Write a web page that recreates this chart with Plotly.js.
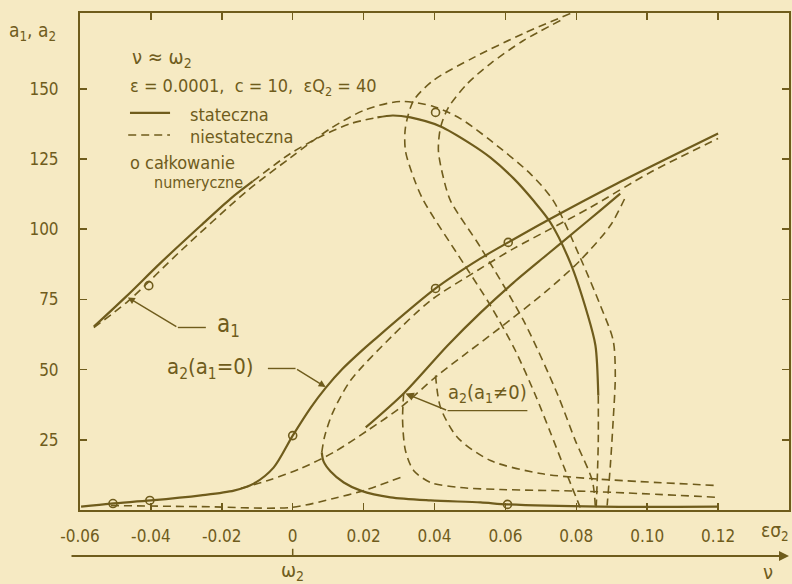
<!DOCTYPE html>
<html>
<head>
<meta charset="utf-8">
<script src="https://cdn.plot.ly/plotly-3.0.1.min.js"></script>
<style>
  html, body { margin: 0; padding: 0; background: #f6eac3; }
  #chart { width: 792px; height: 584px; }
</style>
</head>
<body>
<div id="chart"></div>
<script>
// Amplitude response near nu ~ omega_2 (detuning eps*sigma_2 on the x axis)

// a1 branch: stable part on the left, unstable middle, stable arc, unstable tail
const a1StableLeftX  = [-0.0561, -0.0470, -0.0372, -0.0259, -0.0175, -0.0113];
const a1StableLeftY  = [65.3, 76.0, 88.1, 101.3, 110.9, 117.0];
const a1UnstableMidX = [-0.0113, -0.0006, 0.0079, 0.0163, 0.0239];
const a1UnstableMidY = [117.0, 127.0, 133.0, 137.6, 139.8];
const a1StableArcX   = [0.0239, 0.0282, 0.0332, 0.0417, 0.0501, 0.0558, 0.0623, 0.0679, 0.0727, 0.0783, 0.0831, 0.0854, 0.0862];
const a1StableArcY   = [139.8, 140.5, 139.8, 136.6, 130.5, 125.5, 118.1, 110.2, 102.4, 88.1, 70.0, 58.6, 40.8];
const a1TailX        = [0.0862, 0.0862, 0.0859, 0.0856];
const a1TailY        = [40.8, 24.8, 10.5, 0.5];
// a1 outer unstable branch
const a1OuterX = [-0.0561, -0.0465, -0.0315, -0.0127, -0.0006, 0.0107, 0.0206, 0.0304, 0.0397, 0.0473, 0.0558, 0.0670, 0.0735, 0.0811, 0.0868, 0.0904, 0.0910, 0.0904, 0.0896, 0.0887];
const a1OuterY = [65.0, 74.3, 92.4, 113.8, 125.5, 135.9, 142.6, 145.5, 143.7, 139.4, 131.6, 119.8, 110.2, 89.9, 72.8, 60.4, 47.9, 31.9, 15.8, 1.6];
// two unstable loops coming down from the top edge
const loop1X = [0.0783, 0.0651, 0.0510, 0.0397, 0.0341, 0.0318, 0.0318, 0.0341, 0.0369, 0.0482, 0.0558, 0.0628, 0.0685, 0.0727, 0.0769, 0.0811];
const loop1Y = [176.8, 169.7, 161.1, 153.0, 145.8, 136.2, 128.0, 118.4, 110.2, 87.8, 72.8, 56.8, 40.8, 27.6, 14.1, 0.9];
const loop2X = [0.0755, 0.0651, 0.0558, 0.0493, 0.0439, 0.0417, 0.0411, 0.0425, 0.0445, 0.0530, 0.0651, 0.0746, 0.0797, 0.0845, 0.0854];
const loop2Y = [174.3, 167.2, 159.0, 151.9, 143.3, 136.2, 128.0, 118.4, 110.2, 93.5, 67.5, 41.5, 24.8, 10.5, 0.5];

// a2 with a1 = 0: upper stable, middle unstable, lower stable
const a2UpperX = [-0.0597, -0.0513, -0.0400, -0.0259, -0.0166, -0.0110, -0.0054, 0.0, 0.0051, 0.0093, 0.0140, 0.0185, 0.0228, 0.0403, 0.0530, 0.0608, 0.0718, 0.0915, 0.1200];
const a2UpperY = [1.2, 2.3, 3.4, 5.2, 6.9, 9.4, 15.1, 26.5, 36.5, 43.5, 50.2, 55.6, 60.4, 78.9, 89.6, 95.3, 103.1, 116.3, 134.1];
const a2MiddleX = [0.0082, 0.0090, 0.0113, 0.0163, 0.0276, 0.0389, 0.0521, 0.0623, 0.0718, 0.0839, 0.1008, 0.1200];
const a2MiddleY = [20.5, 26.2, 34.7, 46.1, 61.4, 74.6, 85.3, 93.1, 99.5, 107.7, 120.2, 132.3];
const a2LowerX = [0.0082, 0.0087, 0.0107, 0.0144, 0.0192, 0.0276, 0.0389, 0.0530, 0.0606, 0.0868, 0.1200];
const a2LowerY = [20.5, 17.3, 13.7, 9.8, 6.9, 4.5, 3.4, 2.7, 2.0, 1.2, 1.2];

// a2 with a1 != 0
const a2CoupledStableX = [0.0206, 0.0313, 0.0437, 0.0530, 0.0623, 0.0718, 0.0803, 0.0868, 0.0924];
const a2CoupledStableY = [29.4, 41.5, 58.6, 70.3, 81.0, 91.0, 99.9, 106.7, 112.7];
const a2CoupledUnstX = [-0.0146, -0.0070, 0.0023, 0.0115, 0.0211, 0.0304, 0.0408, 0.0493, 0.0586, 0.0718, 0.0811, 0.0896, 0.0938];
const a2CoupledUnstY = [7.7, 10.5, 14.8, 20.5, 28.3, 36.5, 47.9, 56.1, 65.0, 78.2, 88.9, 101.3, 111.3];
const lowBranchX = [-0.0513, -0.0259, -0.0006, 0.0115, 0.0200, 0.0304];
const lowBranchY = [1.6, 1.2, 0.9, 4.1, 6.9, 11.6];
const tailAX = [0.0313, 0.0310, 0.0318, 0.0341, 0.0389, 0.0473, 0.0586, 0.0839, 0.1200];
const tailAY = [41.5, 31.9, 21.2, 14.1, 9.8, 8.0, 7.3, 6.6, 4.5];
const tailBX = [0.0403, 0.0417, 0.0465, 0.0558, 0.0699, 0.0839, 0.1200];
const tailBY = [47.9, 36.5, 25.8, 17.6, 13.0, 11.2, 8.7];

// numerical integration points
const numX = [-0.0507, -0.0403, 0.0, 0.0403, 0.0608, 0.0606, -0.0406, 0.0403];
const numY = [2.3, 3.4, 26.5, 78.9, 95.3, 2.0, 79.9, 141.6];

const xTickVals = [-0.06, -0.04, -0.02, 0, 0.02, 0.04, 0.06, 0.08, 0.10, 0.12];
const xTickText = ['-0.06', '-0.04', '-0.02', '0', '0.02', '0.04', '0.06', '0.08', '0.10', '0.12'];
const yTickVals = [25, 50, 75, 100, 125, 150];

const ink = '#6f5c1c';
const paper = '#f6eac3';
const font = 'DejaVu Sans Condensed, Liberation Sans Narrow, DejaVu Sans, sans-serif';

function solid(x, y) {
  return { x, y, type: 'scatter', mode: 'lines', hoverinfo: 'skip',
           line: { color: ink, width: 2.2, shape: 'spline', smoothing: 0.8 } };
}
function dashed(x, y) {
  return { x, y, type: 'scatter', mode: 'lines', hoverinfo: 'skip',
           line: { color: ink, width: 1.6, dash: '8px,5px', shape: 'spline', smoothing: 0.8 } };
}

const traces = [
  solid(a1StableLeftX, a1StableLeftY),
  dashed(a1UnstableMidX, a1UnstableMidY),
  solid(a1StableArcX, a1StableArcY),
  dashed(a1TailX, a1TailY),
  dashed(a1OuterX, a1OuterY),
  dashed(loop1X, loop1Y),
  dashed(loop2X, loop2Y),
  solid(a2UpperX, a2UpperY),
  dashed(a2MiddleX, a2MiddleY),
  solid(a2LowerX, a2LowerY),
  solid(a2CoupledStableX, a2CoupledStableY),
  dashed(a2CoupledUnstX, a2CoupledUnstY),
  dashed(lowBranchX, lowBranchY),
  dashed(tailAX, tailAY),
  dashed(tailBX, tailBY),
  { x: numX, y: numY, type: 'scatter', mode: 'markers', hoverinfo: 'skip',
    marker: { symbol: 'circle-open', size: 8, color: ink, line: { color: ink, width: 1.6 } } }
];

const axisFont = { family: font, size: 17, color: ink };

const layout = {
  width: 792, height: 584,
  margin: { l: 80, r: 3, t: 13, b: 74 },
  paper_bgcolor: paper, plot_bgcolor: paper,
  showlegend: false,
  xaxis: {
    range: [-0.06, 0.14], tickvals: xTickVals, ticktext: xTickText,
    showgrid: false, zeroline: false, showline: true, linecolor: ink, linewidth: 2,
    mirror: 'allticks', ticks: 'inside', ticklen: 7, tickwidth: 1.5, tickcolor: ink,
    tickfont: axisFont, ticklabelstandoff: 10
  },
  yaxis: {
    range: [0, 177], tickvals: yTickVals,
    showgrid: false, zeroline: false, showline: true, linecolor: ink, linewidth: 2,
    mirror: 'allticks', ticks: 'inside', ticklen: 7, tickwidth: 1.5, tickcolor: ink,
    tickfont: axisFont, ticklabelstandoff: 16
  },
  shapes: [
    // legend samples
    { type: 'line', xref: 'paper', yref: 'paper', x0: 0.0705, x1: 0.127, y0: 0.799, y1: 0.799,
      line: { color: ink, width: 2.2 } },
    { type: 'line', xref: 'paper', yref: 'paper', x0: 0.068, x1: 0.127, y0: 0.7545, y1: 0.7545,
      line: { color: ink, width: 1.6, dash: '8px,5px' } },
    // leader of the a1 label
    { type: 'line', xref: 'x', yref: 'y', x0: -0.0245, x1: -0.0324, y0: 65.0, y1: 65.0,
      line: { color: ink, width: 1.4 } },
    // leader of the a2(a1=0) label
    { type: 'line', xref: 'x', yref: 'y', x0: -0.0070, x1: 0.0008, y0: 50.4, y1: 50.4,
      line: { color: ink, width: 1.4 } },
    // underline of the a2(a1!=0) label
    { type: 'line', xref: 'x', yref: 'y', x0: 0.0437, x1: 0.0662, y0: 35.4, y1: 35.4,
      line: { color: ink, width: 1.4 } },
    // frequency axis: tick at omega_2
    { type: 'line', xref: 'x', yref: 'paper', x0: 0, x1: 0, y0: -0.0926, y1: -0.078,
      line: { color: ink, width: 1.5 } }
  ],
  annotations: [
    { xref: 'paper', yref: 'paper', x: 0.0705, y: 0.909, xanchor: 'left', yanchor: 'middle',
      text: 'ν ≈ ω<sub>2</sub>', showarrow: false, font: { family: font, size: 20, color: ink } },
    { xref: 'paper', yref: 'paper', x: 0.0677, y: 0.851, xanchor: 'left', yanchor: 'middle',
      text: 'ε = 0.0001,  c = 10,  εQ<sub>2</sub> = 40', showarrow: false,
      font: { family: font, size: 18, color: ink } },
    { xref: 'paper', yref: 'paper', x: 0.152, y: 0.795, xanchor: 'left', yanchor: 'middle',
      text: 'stateczna', showarrow: false, font: { family: font, size: 18, color: ink } },
    { xref: 'paper', yref: 'paper', x: 0.152, y: 0.752, xanchor: 'left', yanchor: 'middle',
      text: 'niestateczna', showarrow: false, font: { family: font, size: 18, color: ink } },
    { xref: 'paper', yref: 'paper', x: 0.0677, y: 0.700, xanchor: 'left', yanchor: 'middle',
      text: 'o całkowanie', showarrow: false, font: { family: font, size: 18, color: ink } },
    { xref: 'paper', yref: 'paper', x: 0.1016, y: 0.659, xanchor: 'left', yanchor: 'middle',
      text: 'numeryczne', showarrow: false, font: { family: font, size: 16, color: ink } },
    // axis titles
    { xref: 'paper', yref: 'paper', x: -0.103, y: 0.962, xanchor: 'left', yanchor: 'middle',
      text: 'a<sub>1</sub>, a<sub>2</sub>', showarrow: false, font: { family: font, size: 19, color: ink } },
    { xref: 'paper', yref: 'paper', x: 0.958, y: -0.044, xanchor: 'left', yanchor: 'middle',
      text: 'εσ<sub>2</sub>', showarrow: false, font: { family: font, size: 19, color: ink } },
    // frequency axis with arrow
    { xref: 'paper', yref: 'paper', x: 1.0, y: -0.0926, ax: -719, ay: 0, text: '',
      showarrow: true, arrowhead: 2, arrowsize: 1, arrowwidth: 2, arrowcolor: ink },
    { xref: 'x', yref: 'paper', x: 0, y: -0.123, xanchor: 'center', yanchor: 'middle',
      text: 'ω<sub>2</sub>', showarrow: false, font: { family: font, size: 20, color: ink } },
    { xref: 'paper', yref: 'paper', x: 0.970, y: -0.125, xanchor: 'center', yanchor: 'middle',
      text: 'ν', showarrow: false, font: { family: font, size: 20, color: ink } },
    // curve labels
    { xref: 'x', yref: 'y', x: -0.0180, y: 65.7, xanchor: 'center', yanchor: 'middle',
      text: 'a<sub>1</sub>', showarrow: false, font: { family: font, size: 24, color: ink } },
    { xref: 'x', yref: 'y', x: -0.0465, y: 75.7, axref: 'x', ayref: 'y', ax: -0.0324, ay: 65.0,
      text: '', showarrow: true, arrowhead: 2, arrowsize: 1, arrowwidth: 1.4, arrowcolor: ink },
    { xref: 'x', yref: 'y', x: -0.0231, y: 50.4, xanchor: 'center', yanchor: 'middle',
      text: 'a<sub>2</sub>(a<sub>1</sub>=0)', showarrow: false, font: { family: font, size: 22, color: ink } },
    { xref: 'x', yref: 'y', x: 0.0093, y: 43.8, axref: 'x', ayref: 'y', ax: 0.0008, ay: 50.4,
      text: '', showarrow: true, arrowhead: 2, arrowsize: 1, arrowwidth: 1.4, arrowcolor: ink },
    { xref: 'x', yref: 'y', x: 0.0549, y: 41.5, xanchor: 'center', yanchor: 'middle',
      text: 'a<sub>2</sub>(a<sub>1</sub>≠0)', showarrow: false, font: { family: font, size: 20, color: ink } },
    { xref: 'x', yref: 'y', x: 0.0318, y: 41.5, axref: 'x', ayref: 'y', ax: 0.0437, ay: 35.4,
      text: '', showarrow: true, arrowhead: 2, arrowsize: 1.2, arrowwidth: 1.4, arrowcolor: ink }
  ]
};

Plotly.newPlot('chart', traces, layout, { displayModeBar: false, staticPlot: true });
</script>
</body>
</html>
